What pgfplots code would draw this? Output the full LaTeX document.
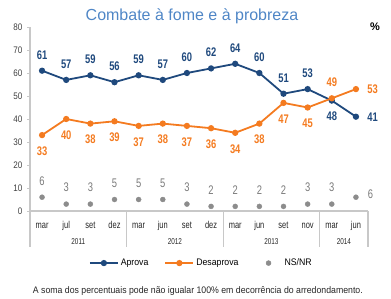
\documentclass[border=0pt]{standalone}
\usepackage{pgfplots}
\usepackage{pgfplotstable}
\pgfplotsset{compat=1.18}
\usepackage{fontspec}
\setmainfont{Liberation Sans}
\newfontfamily\narrowA[FakeStretch=0.75]{Liberation Sans}
\newfontfamily\narrowB[FakeStretch=0.85]{Liberation Sans}
\newfontfamily\narrowC[FakeStretch=0.92]{Liberation Sans}
\definecolor{aprova}{HTML}{1F497D}
\definecolor{desap}{HTML}{F47B20}
\definecolor{nsnr}{HTML}{8C8C8C}
\definecolor{nsnrtxt}{HTML}{7A7A7A}
\definecolor{titleblue}{HTML}{4F86C6}
\definecolor{axisgray}{HTML}{C8C8C8}

\pgfplotstableread{
x y
0 61
1 57
2 59
3 56
4 59
5 57
6 60
7 62
8 64
9 60
10 51
11 53
12 48
13 41
}\aprovaT

\pgfplotstableread{
x y
0 33
1 40
2 38
3 39
4 37
5 38
6 37
7 36
8 34
9 38
10 47
11 45
12 49
13 53
}\desapT

\pgfplotstableread{
x y
0 6
1 3
2 3
3 5
4 5
5 5
6 3
7 2
8 2
9 2
10 2
11 3
12 3
13 6
}\nsnrT

\tikzset{
  lblbold/.style={font=\narrowA\bfseries\fontsize{12.5}{12.5}\selectfont},
  lblreg/.style={font=\narrowA\fontsize{12.5}{12.5}\selectfont},
}
\pgfplotsset{
  lbl/.style={draw=none, mark=none, forget plot, nodes near coords,
    every node near coord/.append style={inner sep=0pt, outer sep=11.5pt, #1}},
  wideimg/.style={legend image code/.code={\draw[mark repeat=2,mark phase=2] plot coordinates {(0pt,0pt)(14pt,0pt)(28pt,0pt)};}},
  wideimgmark/.style={legend image code/.code={\draw[draw=none,mark repeat=2,mark phase=2] plot coordinates {(0pt,0pt)(14pt,0pt)(28pt,0pt)};}},
}

\begin{document}
\begin{tikzpicture}
\useasboundingbox (0,0) rectangle (391pt,298pt);
\begin{axis}[
  at={(30pt,87pt)}, anchor=south west,
  scale only axis, width=338pt, height=184pt,
  xmin=-0.5, xmax=13.5, ymin=0, ymax=80,
  clip=false,
  axis lines*=left,
  axis line style={draw=none},
  xtick={0,...,13},
  xticklabels={mar,jul,set,dez,mar,jun,set,dez,mar,jun,set,nov,mar,jun},
  xtick style={draw=none},
  xticklabel style={anchor=base, yshift=-15pt, font=\narrowA\fontsize{10}{10}\selectfont, text=black!85},
  ytick={0,10,...,80},
  ytick style={draw=axisgray, line width=0.8pt},
  tick align=outside, major tick length=2.5pt,
  yticklabel style={font=\narrowB\fontsize{9.5}{9.5}\selectfont, text=black!75, inner sep=0pt, xshift=-5pt},
  /pgf/number format/assume math mode=true,
  legend style={at={(0.507,-0.283)}, anchor=center, draw=none, fill=none,
    font=\narrowC\fontsize{9.5}{9.5}\selectfont, legend columns=3,
    /tikz/every even column/.append style={column sep=14pt}},
]
\draw[axisgray, line width=1.2pt] (axis cs:-0.5,80) -- (axis cs:-0.5,-15.5);
\draw[axisgray, line width=1.2pt] (axis cs:-0.5,0) -- (axis cs:13.5,0);
\draw[axisgray, line width=1.2pt] (axis cs:3.5,0) -- (axis cs:3.5,-15.5);
\draw[axisgray, line width=1.2pt] (axis cs:7.5,0) -- (axis cs:7.5,-15.5);
\draw[axisgray, line width=1.2pt] (axis cs:11.5,0) -- (axis cs:11.5,-15.5);
\draw[axisgray, line width=1.2pt] (axis cs:13.5,0) -- (axis cs:13.5,-15.5);

\addplot[aprova, line width=1.8pt, mark=*, mark size=2.2pt, wideimg] table[x=x,y=y]{\aprovaT};
\addlegendentry{Aprova}
\addplot[desap, line width=1.8pt, mark=*, mark size=2.2pt, wideimg] table[x=x,y=y]{\desapT};
\addlegendentry{Desaprova}
\addplot[nsnr, draw=none, mark=*, mark size=2.5pt, mark options={fill=nsnr, draw=nsnr, line width=0.4pt}, wideimgmark] table[x=x,y=y]{\nsnrT};
\addlegendentry{NS/NR}

% labels
\addplot[lbl={anchor=south, lblbold, text=aprova}, restrict x to domain=0:11] table[x=x,y=y]{\aprovaT};
\addplot[lbl={anchor=north, lblbold, text=aprova}, restrict x to domain=12:12] table[x=x,y=y]{\aprovaT};
\addplot[lbl={anchor=west, lblbold, text=aprova}, restrict x to domain=13:13] table[x=x,y=y]{\aprovaT};
\addplot[lbl={anchor=north, lblbold, text=desap}, restrict x to domain=0:11] table[x=x,y=y]{\desapT};
\addplot[lbl={anchor=south, lblbold, text=desap}, restrict x to domain=12:12] table[x=x,y=y]{\desapT};
\addplot[lbl={anchor=west, lblbold, text=desap}, restrict x to domain=13:13] table[x=x,y=y]{\desapT};
\addplot[lbl={anchor=south, lblreg, text=nsnrtxt, outer sep=12pt}, restrict x to domain=0:12] table[x=x,y=y]{\nsnrT};
\addplot[lbl={anchor=south west, lblreg, text=nsnrtxt, outer sep=0pt, xshift=12pt, yshift=-1pt}, restrict x to domain=13:13] table[x=x,y=y]{\nsnrT};

\node[anchor=base, font=\narrowA\fontsize{8.5}{8.5}\selectfont, text=black!85] at (axis cs:1.5,0) [yshift=-33pt] {2011};
\node[anchor=base, font=\narrowA\fontsize{8.5}{8.5}\selectfont, text=black!85] at (axis cs:5.5,0) [yshift=-33pt] {2012};
\node[anchor=base, font=\narrowA\fontsize{8.5}{8.5}\selectfont, text=black!85] at (axis cs:9.5,0) [yshift=-33pt] {2013};
\node[anchor=base, font=\narrowA\fontsize{8.5}{8.5}\selectfont, text=black!85] at (axis cs:12.5,0) [yshift=-33pt] {2014};
\end{axis}
\node[anchor=base, font=\fontsize{16}{16}\selectfont, text=titleblue] at (192pt,277pt) {Combate à fome e à probreza};
\node[anchor=base, font=\bfseries\fontsize{11}{11}\selectfont] at (375pt,268pt) {\%};
\node[anchor=base west, font=\narrowC\fontsize{9.5}{9.5}\selectfont, text=black!85, inner sep=0pt] at (32.7pt,5pt) {A soma dos percentuais pode não igualar 100\% em decorrência do arredondamento.};
\end{tikzpicture}
\end{document}
